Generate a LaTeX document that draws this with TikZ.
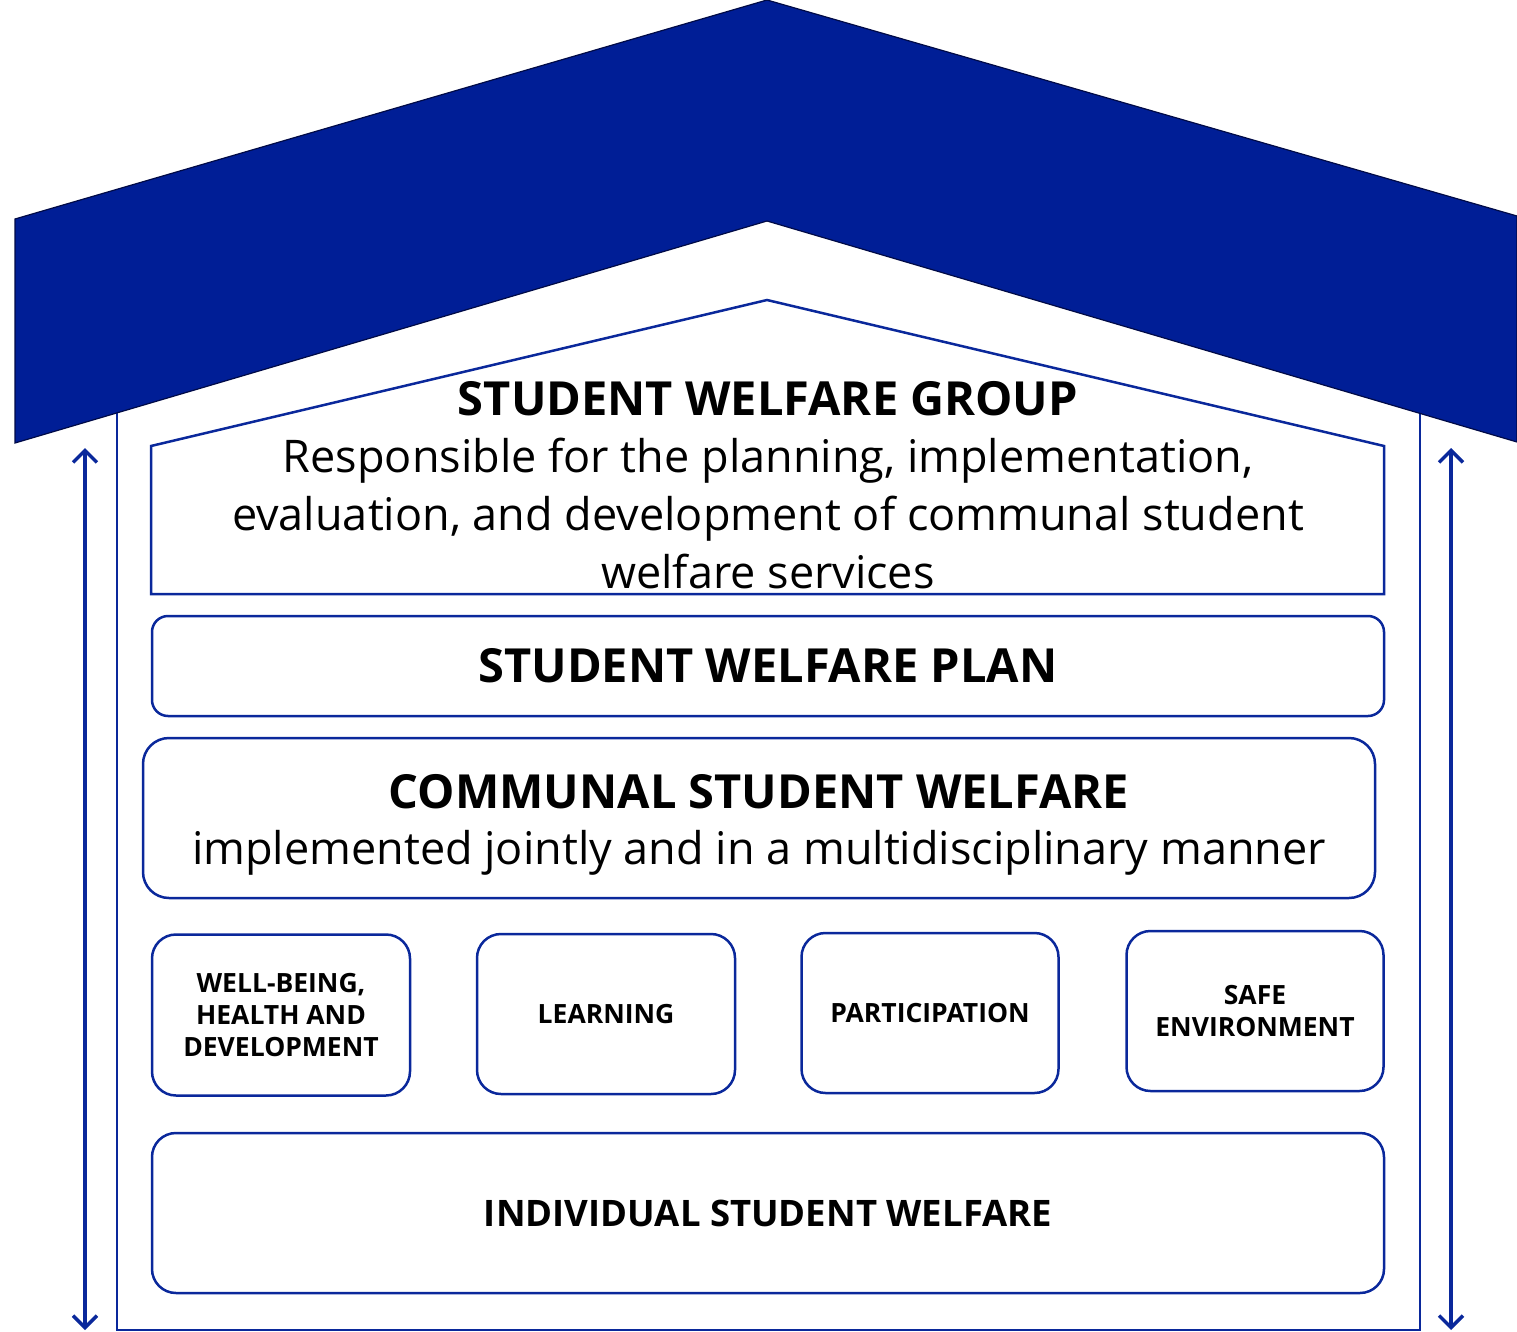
\documentclass[tikz,border=0pt]{standalone}
\usepackage{fontspec}
\setmainfont{Open Sans}
\usetikzlibrary{arrows.meta}
\definecolor{roofblue}{RGB}{0,30,150}
\definecolor{lineblue}{RGB}{10,40,155}
\begin{document}
\begin{tikzpicture}[x=1pt,y=-1pt,
  rbox/.style={draw=lineblue,line width=2.5pt,rounded corners=#1,inner sep=0pt,align=center},
  rbox/.default=20pt,
  dbl/.style={draw=lineblue,line width=3.5pt,{Straight Barb[length=12pt,width=24pt,line width=3.5pt]}-{Straight Barb[length=12pt,width=24pt,line width=3.5pt]}},
  bigtitle/.style={font=\fontsize{47}{56}\selectfont\bfseries},
  smalltxt/.style={font=\fontsize{26.5}{32}\selectfont\bfseries,align=center}]
\useasboundingbox (0,0) rectangle (1517,1332);
% house outline
\draw[lineblue,line width=2.5pt] (117,380) -- (117,1330) -- (1420,1330) -- (1420,380);
% roof
\fill[roofblue,draw={rgb,255:red,0;green,10;blue,70},line width=1.2pt]
  (15,219) -- (767,0) -- (1517,216) -- (1517,442) -- (767,221) -- (15,443) -- cycle;
% group pentagon
\draw[lineblue,line width=2.5pt] (151,446) -- (767,300) -- (1384,446) -- (1384,594) -- (151,594) -- cycle;
\node[font=\fontsize{47}{58}\selectfont\bfseries] (grouptitle) at (768,399) {STUDENT WELFARE GROUP};
\node[font=\fontsize{45}{58}\selectfont,align=center,anchor=north] (groupbody) at (768,435)
  {Responsible for the planning, implementation,\\evaluation, and development of communal student\\welfare services};
% plan
\node[rbox=16pt,minimum width=1232pt,minimum height=100pt,bigtitle] (plan) at (768,666) {STUDENT WELFARE PLAN};
% communal
\node[rbox=26pt,minimum width=1232pt,minimum height=160pt] (communal) at (759,818) {};
\node[bigtitle] (commtitle) at (759,792) {COMMUNAL STUDENT WELFARE};
\node[font=\fontsize{45}{54}\selectfont] (commbody) at (759,853) {implemented jointly and in a multidisciplinary manner};
% four boxes
\node[rbox=24pt,minimum width=258pt,minimum height=161pt,smalltxt] (wb) at (281,1015) {WELL-BEING,\\HEALTH AND\\DEVELOPMENT};
\node[rbox=24pt,minimum width=258pt,minimum height=160pt,smalltxt] (learn) at (606,1014) {LEARNING};
\node[rbox=24pt,minimum width=257pt,minimum height=160pt,smalltxt] (part) at (930,1013) {PARTICIPATION};
\node[rbox=24pt,minimum width=257pt,minimum height=160pt,smalltxt] (safe) at (1255,1011) {SAFE\\ENVIRONMENT};
% individual
\node[rbox=24pt,minimum width=1232pt,minimum height=160pt,font=\fontsize{36.5}{44}\selectfont\bfseries] (indiv) at (768,1213) {INDIVIDUAL STUDENT WELFARE};
% arrows
\coordinate (lt) at (85,448);
\coordinate (lb) at (85,1330);
\coordinate (rt) at (1451,448);
\coordinate (rb) at (1451,1330);
\draw[dbl] (lt) -- (lb);
\draw[dbl] (rt) -- (rb);
\end{tikzpicture}
\end{document}
